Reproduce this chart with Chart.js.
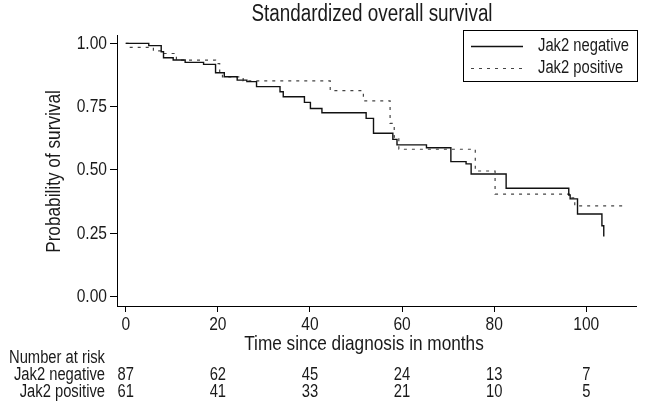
<!DOCTYPE html>
<html>
<head>
<meta charset="utf-8">
<script src="https://cdn.jsdelivr.net/npm/chart.js@4.4.1/dist/chart.umd.min.js"></script>
<style>
  html, body { margin: 0; padding: 0; background: #fff; }
  #wrap { width: 645px; height: 412px; }
</style>
</head>
<body>
<div id="wrap"><canvas id="kmChart" width="645" height="412"></canvas></div>
<script>
// Kaplan-Meier steps (months, survival probability)
const negTimes = [0, 5.0, 7.7, 8.2, 10.3, 12.9, 16.9, 19.5, 21.4, 24.2, 26.3, 28.4, 33.5, 34.2, 38.8, 40.1, 42.6, 52.2, 53.8, 58.0, 58.9, 65.3, 70.6, 73.9, 75.0, 82.6, 96.2, 96.5, 98.1, 103.4, 103.8];
const negSurv = [1.0, 0.991, 0.967, 0.943, 0.934, 0.925, 0.917, 0.884, 0.868, 0.855, 0.849, 0.829, 0.809, 0.789, 0.767, 0.743, 0.726, 0.704, 0.645, 0.621, 0.599, 0.588, 0.533, 0.524, 0.484, 0.428, 0.401, 0.386, 0.326, 0.280, 0.237];
const posTimes = [0, 0.5, 6.0, 7.9, 11.0, 19.5, 20.4, 21.0, 25.5, 44.4, 51.6, 57.4, 58.3, 59.3, 75.9, 76.3, 80.2, 96.5, 97.5, 108.8];
const posSurv = [1.0, 0.984, 0.97, 0.96, 0.934, 0.92, 0.88, 0.868, 0.852, 0.813, 0.773, 0.684, 0.63, 0.582, 0.507, 0.496, 0.405, 0.39, 0.358, 0.358];

const groupNames = ['Jak2 negative', 'Jak2 positive'];
const xTicks = [0, 20, 40, 60, 80, 100];
const yTicks = [0, 0.25, 0.5, 0.75, 1];
// number at risk at each x tick
const riskNeg = [87, 62, 45, 24, 13, 7];
const riskPos = [61, 41, 33, 21, 10, 5];

const FONT = "'Liberation Sans', Arial, sans-serif";
const TXT = '#1a1a1a';
const NARROW = 0.82; // squeeze to look like a narrow Helvetica

Chart.defaults.font.family = FONT;
Chart.defaults.color = TXT;

function toPoints(xs, ys) {
  return xs.map((x, i) => ({ x: x, y: ys[i] }));
}

function narrowText(ctx, str, x, y, size, align, rot) {
  ctx.save();
  ctx.translate(x, y);
  if (rot) ctx.rotate(rot);
  ctx.scale(NARROW, 1);
  ctx.font = size + 'px ' + FONT;
  ctx.fillStyle = TXT;
  ctx.textAlign = align;
  ctx.textBaseline = 'middle';
  ctx.fillText(str, 0, 0);
  ctx.restore();
}

// texts, legend box and risk table
const extras = {
  id: 'extras',
  afterDraw(chart) {
    const ctx = chart.ctx;
    const area = chart.chartArea;
    const xs = chart.scales.x;
    const ys = chart.scales.y;

    narrowText(ctx, 'Standardized overall survival', 372, 15, 23, 'center');

    // tick labels
    yTicks.forEach(v => narrowText(ctx, v.toFixed(2), 107, ys.getPixelForValue(v), 19, 'right'));
    xTicks.forEach(v => narrowText(ctx, String(v), xs.getPixelForValue(v), 325, 19, 'center'));

    // axis titles
    narrowText(ctx, 'Probability of survival', 54, (area.top + area.bottom) / 2 + 1, 21, 'center', -Math.PI / 2);
    narrowText(ctx, 'Time since diagnosis in months', 364, 344, 21, 'center');

    // legend
    const bx = 463, by = 30, bw = 174, bh = 51;
    ctx.save();
    ctx.fillStyle = '#fff';
    ctx.fillRect(bx, by, bw, bh);
    ctx.strokeStyle = '#000';
    ctx.lineWidth = 1;
    ctx.strokeRect(bx + 0.5, by + 0.5, bw, bh);
    const rows = [46, 68];
    chart.data.datasets.forEach((ds, i) => {
      ctx.strokeStyle = ds.borderColor;
      ctx.lineWidth = ds.borderWidth;
      ctx.setLineDash(ds.borderDash || []);
      ctx.beginPath();
      ctx.moveTo(bx + 8, rows[i] + 0.5);
      ctx.lineTo(bx + 60, rows[i] + 0.5);
      ctx.stroke();
      ctx.setLineDash([]);
      narrowText(ctx, ds.label, bx + 75, rows[i], 18, 'left');
    });
    ctx.restore();

    // number at risk table
    narrowText(ctx, 'Number at risk', 9, 358, 18, 'left');
    narrowText(ctx, groupNames[0], 105, 375, 18, 'right');
    narrowText(ctx, groupNames[1], 105, 392, 18, 'right');
    xTicks.forEach((t, i) => {
      const px = xs.getPixelForValue(t);
      narrowText(ctx, String(riskNeg[i]), px, 375, 18, 'center');
      narrowText(ctx, String(riskPos[i]), px, 392, 18, 'center');
    });
  }
};

new Chart(document.getElementById('kmChart'), {
  type: 'line',
  data: {
    datasets: [
      {
        label: groupNames[0],
        data: toPoints(negTimes, negSurv),
        borderColor: '#111',
        borderWidth: 1.4,
        stepped: true,
        pointRadius: 0,
        fill: false
      },
      {
        label: groupNames[1],
        data: toPoints(posTimes, posSurv),
        borderColor: '#444',
        borderWidth: 1.2,
        borderDash: [3, 5],
        stepped: true,
        pointRadius: 0,
        fill: false
      }
    ]
  },
  options: {
    responsive: false,
    animation: false,
    devicePixelRatio: 1,
    layout: { padding: { top: 35, left: 0, right: 9, bottom: 0 } },
    plugins: {
      legend: { display: false },
      title: { display: false },
      tooltip: { enabled: false }
    },
    scales: {
      x: {
        type: 'linear',
        min: -1.9,
        max: 110.8,
        afterBuildTicks: s => { s.ticks = xTicks.map(v => ({ value: v })); },
        afterFit: s => { s.height = 106; },
        ticks: { display: false },
        grid: { drawOnChartArea: false, drawTicks: true, tickLength: 6, color: '#000' },
        border: { display: true, color: '#000', width: 1 }
      },
      y: {
        type: 'linear',
        min: -0.037,
        max: 1.033,
        afterBuildTicks: s => { s.ticks = yTicks.map(v => ({ value: v })); },
        afterFit: s => { s.width = 117; },
        ticks: { display: false },
        grid: { drawOnChartArea: false, drawTicks: true, tickLength: 7, color: '#000' },
        border: { display: true, color: '#000', width: 1 }
      }
    }
  },
  plugins: [extras]
});
</script>
</body>
</html>
